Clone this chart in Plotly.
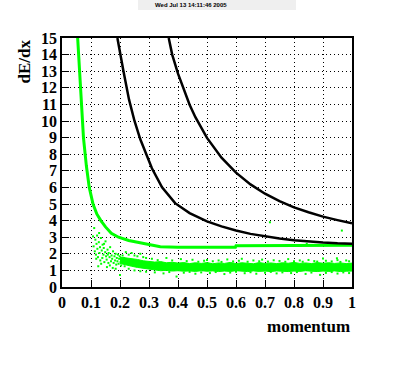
import plotly.graph_objects as go

# ---- data ----
green_curve_x = [0.054, 0.060, 0.068, 0.074, 0.084, 0.094, 0.107, 0.120, 0.134, 0.150, 0.170, 0.195,
                 0.230, 0.281, 0.339, 0.400, 0.500, 0.598, 0.600, 0.700, 0.800, 0.885, 0.887, 1.000]
green_curve_y = [15.0, 13.0, 11.0, 9.0, 7.3, 6.0, 5.0, 4.4, 4.0, 3.62, 3.24, 3.0,
                 2.8, 2.64, 2.43, 2.40, 2.40, 2.40, 2.48, 2.48, 2.48, 2.48, 2.52, 2.52]

black1_x = [0.191, 0.200, 0.212, 0.231, 0.250, 0.270, 0.290, 0.310, 0.345, 0.390, 0.440,
            0.500, 0.550, 0.600, 0.650, 0.700, 0.750, 0.800, 0.850, 0.900, 0.950, 1.000]
black1_y = [15.0, 14.1, 13.0, 11.3, 10.0, 8.9, 8.0, 7.15, 6.0, 5.05, 4.45,
            3.95, 3.65, 3.4, 3.2, 3.04, 2.92, 2.82, 2.74, 2.68, 2.63, 2.6]

black2_x = [0.368, 0.380, 0.400, 0.420, 0.440, 0.460, 0.480, 0.500, 0.550, 0.600, 0.650,
            0.700, 0.750, 0.800, 0.850, 0.900, 0.950, 1.000]
black2_y = [15.0, 14.0, 12.85, 11.85, 10.98, 10.23, 9.57, 8.98, 7.79, 6.89, 6.18,
            5.62, 5.17, 4.80, 4.50, 4.24, 4.03, 3.84]

# dense band of measured points (upper / lower edges)
band_x = [0.20, 0.22, 0.24, 0.26, 0.28, 0.30, 0.32, 0.34, 0.36, 0.38, 0.40, 0.42, 0.44, 0.46,
          0.48, 0.50, 0.52, 0.54, 0.56, 0.58, 0.60, 0.62, 0.64, 0.66, 0.68, 0.70, 0.72, 0.74,
          0.76, 0.78, 0.80, 0.82, 0.84, 0.86, 0.88, 0.90, 0.92, 0.94, 0.96, 0.98, 1.00]
band_hi = [1.80, 1.76, 1.70, 1.66, 1.58, 1.55, 1.50, 1.53, 1.46, 1.49, 1.44, 1.47, 1.41, 1.46,
           1.42, 1.47, 1.40, 1.45, 1.42, 1.48, 1.41, 1.46, 1.43, 1.40, 1.47, 1.42, 1.45, 1.41,
           1.46, 1.43, 1.48, 1.42, 1.45, 1.41, 1.47, 1.43, 1.46, 1.42, 1.45, 1.41, 1.44]
band_lo = [1.42, 1.34, 1.25, 1.18, 1.11, 1.06, 1.02, 0.98, 1.00, 0.96, 0.98, 0.95, 0.97, 0.94,
           0.98, 0.95, 0.97, 0.93, 0.96, 0.94, 0.98, 0.95, 0.93, 0.97, 0.94, 0.96, 0.93, 0.97,
           0.95, 0.93, 0.96, 0.94, 0.98, 0.95, 0.93, 0.96, 0.94, 0.97, 0.93, 0.95, 0.96]

# individual scattered points
pts_x = [0.107, 0.109, 0.111, 0.113, 0.115, 0.117, 0.119, 0.121, 0.122, 0.124, 0.127, 0.129,
         0.131, 0.132, 0.134, 0.137, 0.139, 0.140, 0.143, 0.144, 0.146, 0.149, 0.150, 0.152,
         0.154, 0.157, 0.158, 0.160, 0.161, 0.164, 0.166, 0.169, 0.171, 0.173, 0.176, 0.178,
         0.181, 0.183, 0.185, 0.187, 0.189, 0.191, 0.193, 0.195, 0.197, 0.199, 0.202, 0.204,
         0.206, 0.209, 0.211, 0.214, 0.216, 0.219, 0.125, 0.135, 0.155, 0.165, 0.175, 0.185,
         0.145, 0.118, 0.128, 0.200,
         0.220, 0.230, 0.240, 0.250, 0.260, 0.270, 0.280, 0.290, 0.230, 0.250, 0.270, 0.290,
         0.310, 0.330, 0.360, 0.380, 0.410, 0.430, 0.450, 0.470, 0.490, 0.500, 0.520, 0.540,
         0.550, 0.570, 0.590, 0.610, 0.620, 0.640, 0.660, 0.680, 0.690, 0.710, 0.730, 0.750,
         0.770, 0.780, 0.800, 0.820, 0.830, 0.850, 0.870, 0.880, 0.900, 0.910, 0.930, 0.950,
         0.960, 0.980, 0.990, 0.948,
         0.320, 0.350, 0.370, 0.395, 0.420, 0.440, 0.460, 0.480, 0.510, 0.530, 0.560, 0.580,
         0.600, 0.630, 0.650, 0.670, 0.700, 0.720, 0.740, 0.760, 0.790, 0.810, 0.840, 0.860,
         0.890, 0.910, 0.930, 0.950, 0.970, 0.990,
         0.717, 0.965, 0.844]
pts_y = [3.05, 2.45, 3.55, 2.15, 2.85, 1.95, 2.60, 3.10, 2.30, 1.80, 2.70, 2.05,
         2.40, 1.60, 2.95, 2.20, 1.75, 2.55, 1.95, 2.35, 1.50, 2.10, 2.75, 1.85,
         1.65, 2.25, 1.95, 1.45, 2.05, 1.80, 2.40, 1.55, 1.90, 1.70, 2.15, 1.45,
         1.85, 1.60, 2.00, 1.35, 1.75, 1.55, 1.95, 1.40, 1.70, 1.85, 1.50, 1.30,
         1.65, 1.90, 1.45, 1.75, 1.25, 1.60, 1.25, 1.40, 1.20, 1.30, 1.15, 1.10,
         2.60, 1.70, 3.25, 0.73,
         2.10, 1.95, 2.05, 1.90, 1.85, 2.00, 1.80, 1.75, 1.10, 1.00, 0.95, 0.92,
         1.70, 1.62, 1.75, 1.60, 1.68, 1.56, 1.64, 1.52, 1.58, 1.63, 1.55, 1.60,
         1.51, 1.66, 1.54, 1.58, 1.70, 1.52, 1.60, 1.55, 1.65, 1.53, 1.61, 1.57,
         1.52, 1.68, 1.55, 1.60, 1.52, 1.63, 1.56, 1.53, 1.72, 1.58, 1.54, 1.62,
         1.51, 1.60, 1.55, 1.73,
         0.88, 0.82, 0.90, 0.63, 0.86, 0.91, 0.80, 0.88, 0.84, 0.90, 0.78, 0.87,
         0.92, 0.83, 0.89, 0.80, 0.86, 0.91, 0.82, 0.88, 0.84, 0.90, 0.79, 0.87,
         0.73, 0.85, 0.90, 0.81, 0.88, 0.84,
         3.90, 3.40, 2.60]

x_tickvals = [0, 0.1, 0.2, 0.3, 0.4, 0.5, 0.6, 0.7, 0.8, 0.9, 1.0]
x_ticktext = ["0", "0.1", "0.2", "0.3", "0.4", "0.5", "0.6", "0.7", "0.8", "0.9", "1"]
y_tickvals = list(range(0, 16))
y_ticktext = [str(v) for v in y_tickvals]

GREEN = "#00ff00"
SERIF = "Liberation Serif, Times New Roman, serif"

fig = go.Figure()

fig.add_trace(go.Scatter(
    x=band_x + band_x[::-1], y=band_hi + band_lo[::-1],
    mode="lines", fill="toself", fillcolor=GREEN,
    line=dict(color=GREEN, width=1), hoverinfo="skip", showlegend=False))

fig.add_trace(go.Scatter(
    x=pts_x, y=pts_y, mode="markers",
    marker=dict(color=GREEN, size=2, symbol="square", line=dict(width=0)),
    showlegend=False))

fig.add_trace(go.Scatter(x=green_curve_x, y=green_curve_y, mode="lines",
                         line=dict(color=GREEN, width=3), showlegend=False))
fig.add_trace(go.Scatter(x=black1_x, y=black1_y, mode="lines",
                         line=dict(color="black", width=2.5), showlegend=False))
fig.add_trace(go.Scatter(x=black2_x, y=black2_y, mode="lines",
                         line=dict(color="black", width=2.5), showlegend=False))

tick_font = dict(family=SERIF, size=16, color="black", weight="bold")
grid_dash = "1px,3px"

fig.update_xaxes(range=[0, 1], tickvals=x_tickvals, ticktext=x_ticktext,
                 ticks="inside", ticklen=7, tickcolor="black", tickwidth=1,
                 showline=True, linecolor="black", linewidth=1.5, mirror=True,
                 showgrid=True, gridcolor="black", griddash=grid_dash, gridwidth=1,
                 zeroline=False, tickfont=tick_font)
fig.update_yaxes(range=[0, 15], tickvals=y_tickvals, ticktext=y_ticktext,
                 ticks="inside", ticklen=7, tickcolor="black", tickwidth=1,
                 showline=True, linecolor="black", linewidth=1.5, mirror=True,
                 showgrid=True, gridcolor="black", griddash=grid_dash, gridwidth=1,
                 zeroline=False, tickfont=tick_font)

fig.add_annotation(text="dE/dx", xref="paper", yref="paper", x=-0.093, y=1.0,
                   xanchor="right", yanchor="top", textangle=-90, showarrow=False,
                   font=dict(family=SERIF, size=17, color="black", weight="bold"))
fig.add_annotation(text="momentum", xref="paper", yref="paper", x=1.0, y=-0.158,
                   xanchor="right", yanchor="middle", showarrow=False,
                   font=dict(family=SERIF, size=17, color="black", weight="bold"))

# date box at top
fig.add_shape(type="rect", xref="paper", yref="paper",
              x0=(138 - 62) / 290, x1=(296 - 62) / 290,
              y0=(287 - 10) / 249, y1=(287 + 2) / 249,
              fillcolor="#efefef", line=dict(width=0), layer="below")
fig.add_annotation(text="Wed Jul 13 14:11:46 2005", xref="paper", yref="paper",
                   x=(153 - 62) / 290, y=(287 - 5) / 249, xanchor="left", yanchor="middle",
                   showarrow=False,
                   font=dict(family="Liberation Sans", size=6, color="black", weight="bold"))

fig.update_layout(width=396, height=368,
                  margin=dict(l=62, r=44, t=38, b=81),
                  paper_bgcolor="white", plot_bgcolor="white",
                  showlegend=False)

fig.write_html("out.html", config={"displayModeBar": False},
               post_script="document.body.style.margin='0px';")
